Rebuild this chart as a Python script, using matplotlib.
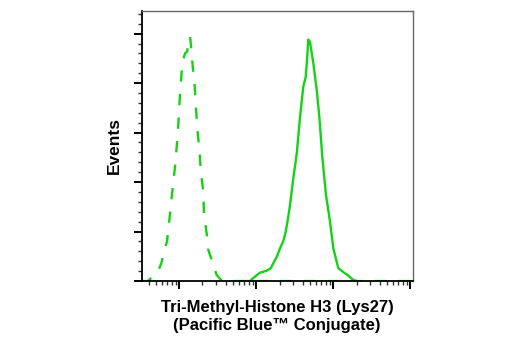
import numpy as np
import matplotlib
matplotlib.use('Agg')
import matplotlib.pyplot as plt
from matplotlib.ticker import LogLocator, MultipleLocator, NullFormatter

# isotype control (dashed)
ctrl_x = [32, 39, 53, 59, 63, 69, 72, 77, 82, 88, 92.5, 97, 102, 107, 111, 118.5, 126,
          134, 138, 141, 145, 151, 158.5, 165, 171, 182, 190, 205, 209, 227, 238, 277,
          306, 359, 420, 500, 1000, 3000, 10000, 30000, 107000]
ctrl_y = [0, 0, 0.19, 0.38, 0.59, 0.79, 1.03, 1.47, 1.88, 2.31, 2.71, 3.15, 3.76, 4.20,
          4.43, 4.60, 4.63, 4.87, 4.94, 4.80, 4.57, 4.26, 3.93, 3.49, 3.09, 2.67, 2.24,
          1.80, 1.37, 0.95, 0.63, 0.32, 0.12, 0, 0.03, 0, 0, 0, 0, 0, 0]

# Tri-Methyl-Histone H3 (Lys27) stained (solid)
stain_x = [713, 828, 962, 1117, 1365, 1538, 1663, 1841, 2032, 2244, 2410, 2558, 2741,
           3000, 3350, 3700, 4075, 4385, 4550, 4730, 4980, 5500, 6085, 6580, 7190, 8030,
           9055, 10000, 11610, 13480, 15660, 18190, 20300]
stain_y = [0, 0, 0.09, 0.17, 0.21, 0.26, 0.36, 0.49, 0.66, 0.81, 1.00, 1.23, 1.54, 2.04,
           2.58, 3.32, 3.93, 4.13, 4.46, 4.88, 4.83, 4.40, 3.86, 3.32, 2.51, 1.74, 1.20,
           0.66, 0.26, 0.18, 0.11, 0.02, 0]

green = '#14d314'
font = ['Liberation Sans Narrow', 'Liberation Sans', 'DejaVu Sans']

fig = plt.figure(figsize=(5.2, 3.5), dpi=100)
ax = fig.add_axes([0.2725, 0.197, 0.521, 0.772])

ax.plot(ctrl_x, ctrl_y, color=green, lw=1.7, linestyle=(0, (4.8, 5.2)))
ax.plot(stain_x, stain_y, color=green, lw=1.7)

ax.set_xscale('log')
ax.set_xlim(32.5, 107000)
ax.set_ylim(0, 5.46)

ax.xaxis.set_major_locator(LogLocator(base=10))
ax.xaxis.set_minor_locator(LogLocator(base=10, subs=np.arange(2, 10)))
ax.xaxis.set_major_formatter(NullFormatter())
ax.xaxis.set_minor_formatter(NullFormatter())
ax.yaxis.set_major_locator(MultipleLocator(1))
ax.yaxis.set_minor_locator(MultipleLocator(0.2))
ax.yaxis.set_major_formatter(NullFormatter())

ax.tick_params(which='major', direction='out', length=6, width=1.4, color='black')
ax.tick_params(which='minor', direction='out', length=3, width=1, color='#333333')
ax.tick_params(top=False, right=False, which='both')

for s in ['left', 'bottom']:
    ax.spines[s].set_color('black')
    ax.spines[s].set_linewidth(1.3)
for s in ['top', 'right']:
    ax.spines[s].set_color('#666666')
    ax.spines[s].set_linewidth(1.0)

ax.set_ylabel('Events', family=font, fontsize=12.5, fontweight='bold', labelpad=5)
ax.set_xlabel('Tri-Methyl-Histone H3 (Lys27)\n(Pacific Blue\u2122 Conjugate)',
              family=font, fontsize=12, fontweight='bold', labelpad=4, linespacing=1.3)

fig.savefig('out.png', dpi=100)
